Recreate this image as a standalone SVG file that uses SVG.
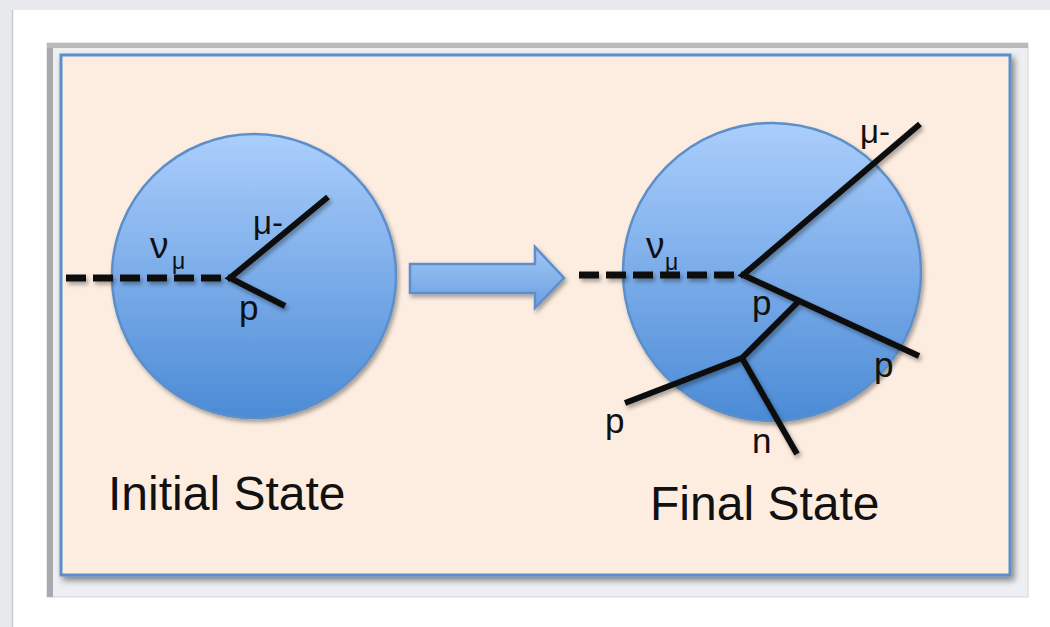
<svg xmlns="http://www.w3.org/2000/svg" width="1050" height="627" viewBox="0 0 1050 627">
  <defs>
    <linearGradient id="ball" x1="0" y1="0" x2="0" y2="1">
      <stop offset="0" stop-color="#abcefc"/>
      <stop offset="1" stop-color="#4b8bd6"/>
    </linearGradient>
    <linearGradient id="arr" x1="0" y1="0" x2="0" y2="1">
      <stop offset="0" stop-color="#a3c8f6"/>
      <stop offset="1" stop-color="#6a9fe0"/>
    </linearGradient>
    <filter id="sh" x="-20%" y="-20%" width="140%" height="140%">
      <feDropShadow dx="2" dy="3" stdDeviation="2" flood-color="#000" flood-opacity="0.35"/>
    </filter>
    <filter id="shBig" x="-5%" y="-5%" width="110%" height="115%">
      <feDropShadow dx="3" dy="4" stdDeviation="3" flood-color="#000" flood-opacity="0.45"/>
    </filter>
  </defs>
  <style>
    .ball { fill: url(#ball); stroke: #5b8fc9; stroke-width: 2.5; }
    .trk { stroke: #111; stroke-width: 6; fill: none; stroke-linecap: butt; }
    .dash { stroke: #111; stroke-width: 7; fill: none; stroke-dasharray: 20 7; }
    .lbl { font-family: "Liberation Sans", Arial, sans-serif; fill: #111; }
    .title { font-family: "Liberation Sans", Arial, sans-serif; fill: #111; font-size: 48px; }
  </style>

  <!-- page background -->
  <rect x="0" y="0" width="1050" height="627" fill="#e8e9ed"/>
  <rect x="12" y="10" width="1038" height="617" fill="#ffffff"/>
  <line x1="12.5" y1="10" x2="12.5" y2="627" stroke="#c9cacd" stroke-width="1.5"/>

  <!-- outer frame -->
  <g id="frame">
    <rect x="47" y="43" width="981" height="554" fill="#eeeff2" stroke="#d4d5d8" stroke-width="1"/>
    <rect x="47" y="43" width="6" height="554" fill="#a9aaad"/>
    <rect x="47" y="43" width="981" height="5" fill="#b9babd"/>
    <rect x="61" y="55" width="949" height="520" fill="#fdede1" stroke="#5b8fc9" stroke-width="3" filter="url(#shBig)"/>
  </g>

  <!-- left circle -->
  <g id="initial-nucleus">
    <circle class="ball" cx="254" cy="276" r="142" filter="url(#sh)"/>
  </g>
  <!-- right circle -->
  <g id="final-nucleus">
    <circle class="ball" cx="772" cy="272" r="149" filter="url(#sh)"/>
  </g>

  <!-- arrow -->
  <g id="arrow">
    <polygon points="410,264 535,264 535,247 564,278 535,308 535,293 410,293" fill="url(#arr)" stroke="#5b8fc9" stroke-width="2.5" stroke-linejoin="miter" filter="url(#sh)"/>
  </g>

  <!-- connectors / tracks -->
  <g id="tracks" filter="url(#sh)">
    <line class="dash" x1="66" y1="278" x2="230" y2="278"/>
    <polyline class="trk" points="328,197 230,278 285,306"/>

    <line class="dash" x1="579" y1="275" x2="742" y2="275"/>
    <polyline class="trk" points="920,124 743,275 919,356"/>
    <line class="trk" x1="798" y1="302" x2="742" y2="358"/>
    <line class="trk" x1="625" y1="403" x2="742" y2="358"/>
    <line class="trk" x1="742" y1="358" x2="797" y2="454"/>
  </g>

  <!-- labels -->
  <g id="labels-initial">
    <text class="lbl" x="150" y="258" font-size="37">ν</text>
    <text class="lbl" x="172" y="269" font-size="23">μ</text>
    <text class="lbl" x="253" y="234" font-size="33">μ-</text>
    <text class="lbl" x="239" y="320" font-size="35">p</text>
    <text class="title" x="108" y="510">Initial State</text>
  </g>
  <g id="labels-final">
    <text class="lbl" x="646" y="258" font-size="37">ν</text>
    <text class="lbl" x="665" y="270" font-size="23">μ</text>
    <text class="lbl" x="860" y="143" font-size="33">μ-</text>
    <text class="lbl" x="752" y="315" font-size="35">p</text>
    <text class="lbl" x="874" y="377" font-size="35">p</text>
    <text class="lbl" x="605" y="433" font-size="35">p</text>
    <text class="lbl" x="752" y="453" font-size="35">n</text>
    <text class="title" x="650" y="520">Final State</text>
  </g>
</svg>
